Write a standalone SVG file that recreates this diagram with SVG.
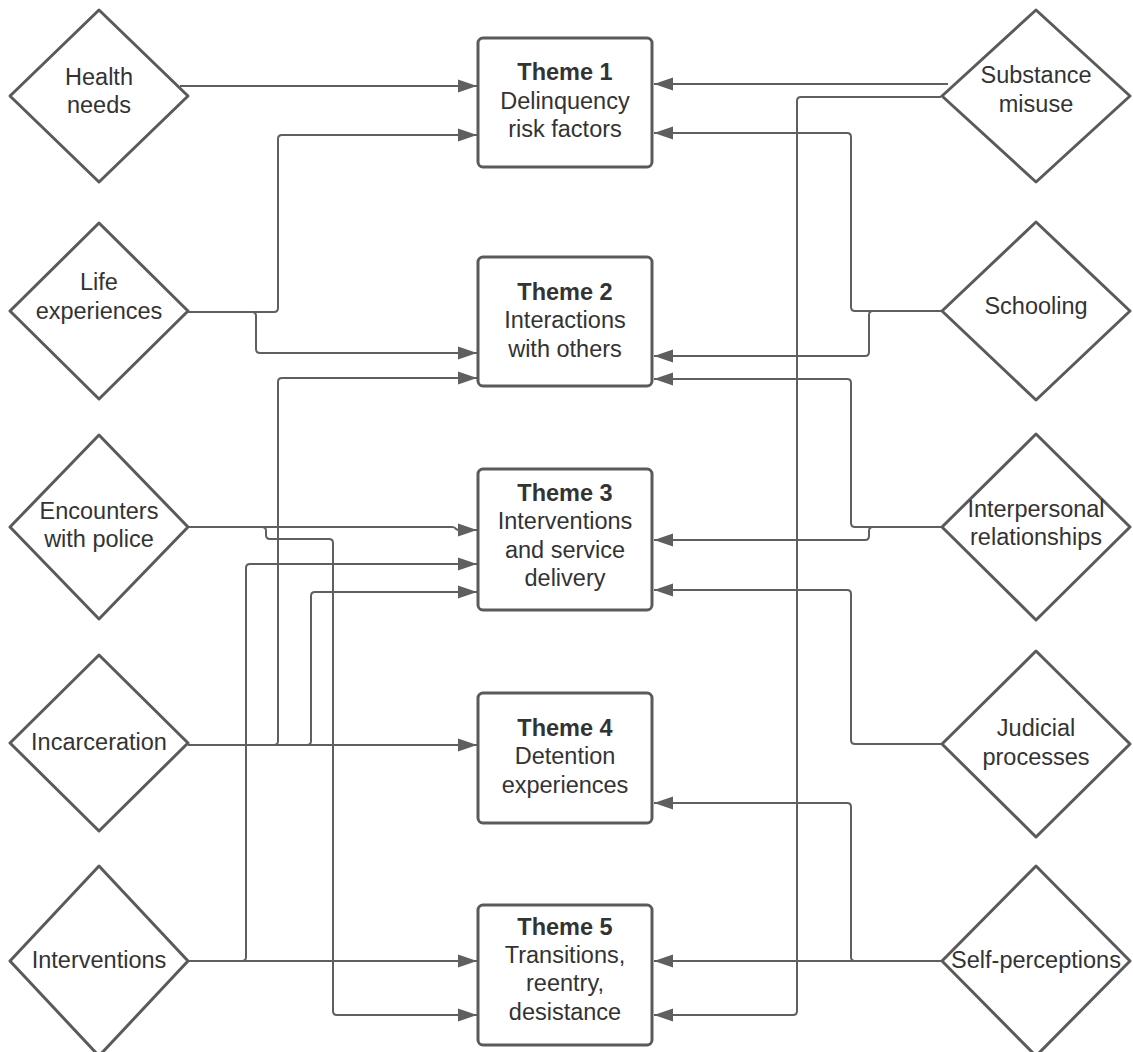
<svg xmlns="http://www.w3.org/2000/svg" width="1133" height="1052" viewBox="0 0 1133 1052">
<defs>
<style>
.c{fill:none;stroke:#5f5f5f;stroke-width:2;marker-end:url(#ah)}
.d{fill:#fff;stroke:#5a5a5a;stroke-width:3;stroke-linejoin:round}
.b{fill:#fff;stroke:#5a5a5a;stroke-width:3}
text{font-family:"Liberation Sans",Arial,sans-serif;font-size:23.5px;fill:#333;text-anchor:middle}
.t{font-weight:bold}
</style>
<marker id="ah" markerUnits="userSpaceOnUse" markerWidth="20" markerHeight="14" refX="19" refY="7" orient="auto">
<path d="M0,0.5 L19,7 L0,13.5 Z" fill="#5f5f5f"/>
</marker>
</defs>
<rect width="1133" height="1052" fill="#fff"/>
<g id="connectors">
<path class="c" d="M180,86 H477"/>
<path class="c" d="M188,312 H274 Q278,312 278,308 V139 Q278,135 282,135 H477"/>
<path class="c" d="M188,312 H252 Q256,312 256,316 V349 Q256,353 260,353 H477"/>
<path class="c" d="M188,745 H274 Q278,745 278,741 V382 Q278,378 282,378 H477"/>
<path class="c" d="M188,745 H307 Q311,745 311,741 V596 Q311,592 315,592 H477"/>
<path class="c" d="M188,745 H477"/>
<path class="c" d="M188,527 H452 Q455,527 456,529 Q457,530 460,530 H477"/>
<path class="c" d="M188,527 H262 Q266,527 266,531 V535 Q266,539 270,539 H329 Q333,539 333,543 V1011 Q333,1015 337,1015 H477"/>
<path class="c" d="M188,961 H242 Q246,961 246,957 V568 Q246,564 250,564 H477"/>
<path class="c" d="M188,961 H477"/>
<path class="c" d="M948,84 H654"/>
<path class="c" d="M941,97 H801 Q797,97 797,101 V1011 Q797,1015 793,1015 H654"/>
<path class="c" d="M941,311 H855 Q851,311 851,307 V137 Q851,133 847,133 H654"/>
<path class="c" d="M941,311 H873 Q869,311 869,315 V352 Q869,356 865,356 H654"/>
<path class="c" d="M941,527 H855 Q851,527 851,523 V383 Q851,379 847,379 H654"/>
<path class="c" d="M941,527 H873 Q869,527 869,531 V536 Q869,540 865,540 H654"/>
<path class="c" d="M941,744 H855 Q851,744 851,740 V594 Q851,590 847,590 H654"/>
<path class="c" d="M941,961 H855 Q851,961 851,957 V807 Q851,803 847,803 H654"/>
<path class="c" d="M941,961 H654"/>
</g>
<g id="theme1"><rect class="b" x="478" y="38" width="174" height="129" rx="5"/><text class="t" x="565" y="80">Theme 1</text><text x="565" y="109">Delinquency</text><text x="565" y="137">risk factors</text></g>
<g id="theme2"><rect class="b" x="478" y="257" width="174" height="129" rx="5"/><text class="t" x="565" y="300">Theme 2</text><text x="565" y="328">Interactions</text><text x="565" y="357">with others</text></g>
<g id="theme3"><rect class="b" x="478" y="469" width="174" height="141" rx="5"/><text class="t" x="565" y="501">Theme 3</text><text x="565" y="529">Interventions</text><text x="565" y="558">and service</text><text x="565" y="586">delivery</text></g>
<g id="theme4"><rect class="b" x="478" y="693" width="174" height="130" rx="5"/><text class="t" x="565" y="736">Theme 4</text><text x="565" y="764">Detention</text><text x="565" y="793">experiences</text></g>
<g id="theme5"><rect class="b" x="478" y="905" width="174" height="140" rx="5"/><text class="t" x="565" y="935">Theme 5</text><text x="565" y="963">Transitions,</text><text x="565" y="991">reentry,</text><text x="565" y="1020">desistance</text></g>
<g id="health-needs"><polygon class="d" points="99,10 188,96 99,182 10,96"/><text x="99" y="85">Health</text><text x="99" y="113">needs</text></g>
<g id="life-experiences"><polygon class="d" points="99,223 188,311 99,399 10,311"/><text x="99" y="290">Life</text><text x="99" y="319">experiences</text></g>
<g id="encounters-police"><polygon class="d" points="99,435 188,527 99,619 10,527"/><text x="99" y="519">Encounters</text><text x="99" y="547">with police</text></g>
<g id="incarceration"><polygon class="d" points="99,655 188,743 99,831 10,743"/><text x="99" y="750">Incarceration</text></g>
<g id="interventions"><polygon class="d" points="99,866 188,961 99,1056 10,961"/><text x="99" y="968">Interventions</text></g>
<g id="substance-misuse"><polygon class="d" points="1036,10 1130,96 1036,182 942,96"/><text x="1036" y="83">Substance</text><text x="1036" y="112">misuse</text></g>
<g id="schooling"><polygon class="d" points="1036,222 1130,311 1036,400 942,311"/><text x="1036" y="314">Schooling</text></g>
<g id="interpersonal"><polygon class="d" points="1036,434 1130,527 1036,620 942,527"/><text x="1036" y="517">Interpersonal</text><text x="1036" y="545">relationships</text></g>
<g id="judicial"><polygon class="d" points="1036,651 1130,744 1036,837 942,744"/><text x="1036" y="736">Judicial</text><text x="1036" y="765">processes</text></g>
<g id="self-perceptions"><polygon class="d" points="1036,866 1130,961 1036,1056 942,961"/><text x="1036" y="968">Self-perceptions</text></g>
</svg>
